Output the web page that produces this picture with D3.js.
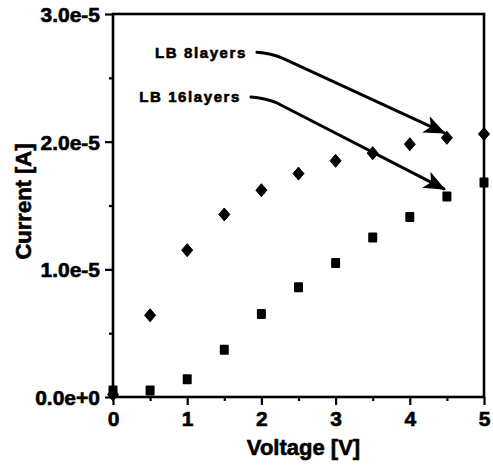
<!DOCTYPE html>
<html>
<head>
<meta charset="utf-8">
<script src="https://cdn.jsdelivr.net/npm/d3@7"></script>
<style>
  html, body { margin: 0; padding: 0; background: #fff; }
  svg { display: block; }
  text { font-family: "Liberation Sans", Arial, Helvetica, sans-serif; font-weight: bold; fill: #000; stroke: #000; stroke-width: 0.6px; }
</style>
</head>
<body>
<svg id="chart" width="493" height="475"></svg>
<script>
// Applied voltage [V]
const voltage = [0, 0.5, 1, 1.5, 2, 2.5, 3, 3.5, 4, 4.5, 5];
// Measured current [A] for each film thickness
const current8 = [0.02e-5, 0.64e-5, 1.15e-5, 1.43e-5, 1.62e-5, 1.75e-5, 1.85e-5, 1.91e-5, 1.98e-5, 2.03e-5, 2.06e-5];
const current16 = [0.05e-5, 0.05e-5, 0.14e-5, 0.37e-5, 0.65e-5, 0.86e-5, 1.05e-5, 1.25e-5, 1.41e-5, 1.57e-5, 1.68e-5];
// Axis ticks
const xTicks = [0, 1, 2, 3, 4, 5];
const xMinor = [0.5, 1.5, 2.5, 3.5, 4.5];
const yTicks = [0, 1e-5, 2e-5, 3e-5];
const yMinor = [0.5e-5, 1.5e-5, 2.5e-5];
// Callout labels: text, label end (V, A) and arrow tip (V, A)
const labels = ["LB 8layers", "LB 16layers"];
const labelFrom = [[1.94, 2.70e-5], [1.86, 2.35e-5]];
const labelTo = [[4.46, 2.07e-5], [4.46, 1.63e-5]];

const svg = d3.select("#chart");
const x = d3.scaleLinear().domain([0, 5]).range([113, 484]);
const y = d3.scaleLinear().domain([0, 3e-5]).range([397, 14]);

// frame
svg.append("rect")
  .attr("x", x(0)).attr("y", y(3e-5))
  .attr("width", x(5) - x(0)).attr("height", y(0) - y(3e-5))
  .attr("fill", "none").attr("stroke", "#000").attr("stroke-width", 2.6);

// y axis
const yAxis = svg.append("g").attr("transform", `translate(${x(0)},0)`)
  .call(d3.axisLeft(y).tickValues(yTicks).tickSize(8).tickPadding(5).tickFormat(d3.format(".1e")));
svg.append("g").attr("transform", `translate(${x(0)},0)`)
  .call(d3.axisLeft(y).tickValues(yMinor).tickSize(4).tickFormat(""));

// x axis
const xAxis = svg.append("g").attr("transform", `translate(0,${y(0)})`)
  .call(d3.axisBottom(x).tickValues(xTicks).tickSize(8).tickPadding(6).tickFormat(d3.format("d")));
svg.append("g").attr("transform", `translate(0,${y(0)})`)
  .call(d3.axisBottom(x).tickValues(xMinor).tickSize(4).tickFormat(""));

svg.selectAll(".domain").remove();
svg.selectAll(".tick line").attr("stroke", "#000").attr("stroke-width", 2.2);
yAxis.selectAll(".tick text").style("font-size", "21px").attr("dy", "0.35em");
xAxis.selectAll(".tick text").style("font-size", "21px").attr("dy", "0.71em");

// axis titles
svg.append("text")
  .attr("x", (x(0) + x(5)) / 2 + 5).attr("y", 455)
  .attr("text-anchor", "middle").style("font-size", "22px")
  .text("Voltage [V]");
svg.append("text")
  .attr("transform", `translate(31,${(y(0) + y(3e-5)) / 2 - 4}) rotate(-90)`)
  .attr("text-anchor", "middle").style("font-size", "22px")
  .text("Current [A]");

// markers
const diamond = (cx, cy) => `M${cx},${cy - 6.5}L${cx + 5.5},${cy}L${cx},${cy + 6.5}L${cx - 5.5},${cy}Z`;
svg.append("g").selectAll("path").data(voltage.map((v, i) => [v, current8[i]])).join("path")
  .attr("d", d => diamond(x(d[0]), y(d[1])))
  .attr("fill", "#000").attr("stroke", "#000").attr("stroke-width", 1).attr("stroke-linejoin", "round");
svg.append("g").selectAll("rect").data(voltage.map((v, i) => [v, current16[i]])).join("rect")
  .attr("x", d => x(d[0]) - 4.5).attr("y", d => y(d[1]) - 5)
  .attr("width", 9).attr("height", 10).attr("rx", 1)
  .attr("fill", "#000");

// callouts with arrows
const defs = svg.append("defs");
defs.append("marker").attr("id", "head")
  .attr("viewBox", "0 0 12 10").attr("refX", 11).attr("refY", 5)
  .attr("markerWidth", 7.5).attr("markerHeight", 6).attr("markerUnits", "strokeWidth")
  .attr("orient", "auto")
  .append("path").attr("d", "M0,0L12,5L0,10L3,5Z").attr("fill", "#000");

labels.forEach((t, i) => {
  const [fx, fy] = [x(labelFrom[i][0]), y(labelFrom[i][1])];
  const [tx, ty] = [x(labelTo[i][0]), y(labelTo[i][1])];
  svg.append("text")
    .attr("x", fx - 10).attr("y", fy)
    .attr("text-anchor", "end").attr("dy", "0.35em")
    .style("font-size", "15px").style("letter-spacing", "1.6px")
    .text(t);
  // short hook leaving the label, then a straight run to the tip
  const p = d3.path();
  p.moveTo(fx, fy);
  p.quadraticCurveTo(fx + 14, fy + 1, fx + 26, fy + 6);
  p.lineTo(tx, ty);
  svg.append("path").attr("d", p.toString())
    .attr("fill", "none").attr("stroke", "#000").attr("stroke-width", 3)
    .attr("stroke-linejoin", "round").attr("stroke-linecap", "round")
    .attr("marker-end", "url(#head)");
});
</script>
</body>
</html>
